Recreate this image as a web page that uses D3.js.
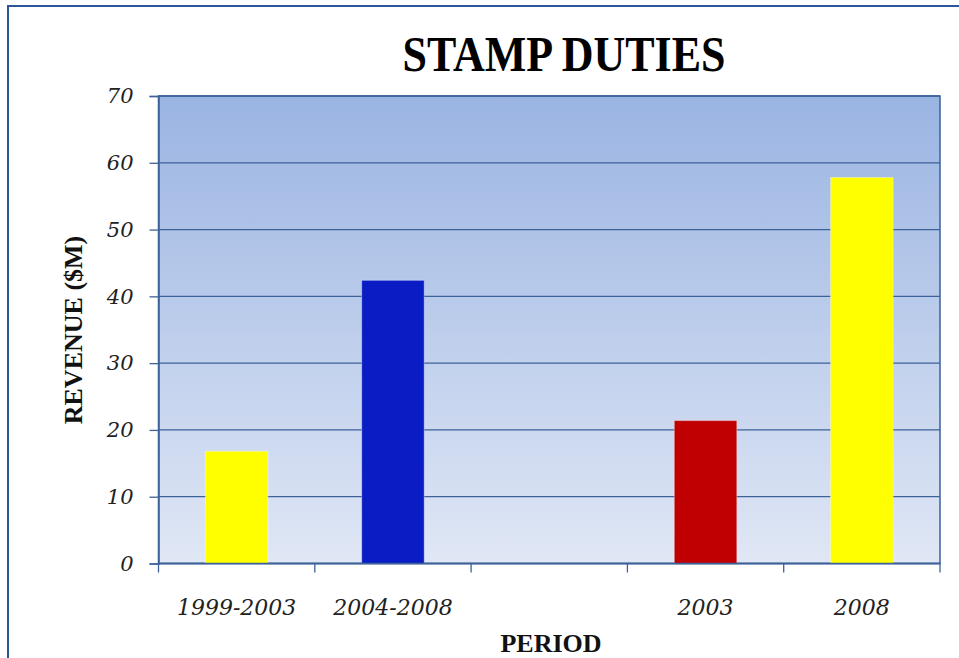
<!DOCTYPE html>
<html lang="en">
<head>
<meta charset="UTF-8">
<title>Stamp Duties</title>
<script src="https://d3js.org/d3.v7.min.js"></script>
<style>
  body { margin: 0; background: #fff; }
  .tick text { font-family: "DejaVu Serif", serif; font-style: italic; font-size: 21px; fill: #222; }
  .xlab text { font-size: 22px; }
  .axis-title { font-family: "Liberation Serif", serif; font-weight: bold; font-size: 26px; fill: #111; }
</style>
</head>
<body>
<svg width="959" height="658"></svg>
<script>
const categories = ["1999-2003", "2004-2008", "", "2003", "2008"];
const values = [16.8, 42.4, null, 21.4, 57.8];
const barColors = ["#FFFF00", "#0A1DC4", null, "#C00000", "#FFFF00"];
const yTicks = [0, 10, 20, 30, 40, 50, 60, 70];

const svg = d3.select("svg");
const plotL = 158.5, plotR = 940, plotT = 96, plotB = 563.5;
const lineColor = "#3D6199";

// outer frame
svg.append("path")
   .attr("d", "M8,660 L8,6 L962,6")
   .attr("fill", "none")
   .attr("stroke", "#2E5597")
   .attr("stroke-width", 2);

// plot background gradient
const grad = svg.append("defs").append("linearGradient")
   .attr("id", "bg").attr("x1", 0).attr("y1", 0).attr("x2", 0).attr("y2", 1);
grad.append("stop").attr("offset", "0%").attr("stop-color", "#9AB4E2");
grad.append("stop").attr("offset", "100%").attr("stop-color", "#E0E7F5");

svg.append("rect")
   .attr("x", plotL).attr("y", plotT)
   .attr("width", plotR - plotL).attr("height", plotB - plotT)
   .attr("fill", "url(#bg)")
   .attr("stroke", lineColor).attr("stroke-width", 1.5);

const x = d3.scaleBand()
   .domain(d3.range(categories.length))
   .range([plotL, plotR])
   .padding(0);

const y = d3.scaleLinear()
   .domain([0, 70])
   .range([plotB, plotT]);

// gridlines
svg.append("g")
   .selectAll("line")
   .data(yTicks)
   .enter().append("line")
   .attr("x1", plotL).attr("x2", plotR)
   .attr("y1", d => y(d)).attr("y2", d => y(d))
   .attr("stroke", lineColor).attr("stroke-width", 1.3);

// bars
const barW = x.bandwidth() * 0.4;
svg.append("g")
   .selectAll("rect")
   .data(values.map((v, i) => ({ v, i })).filter(d => d.v != null))
   .enter().append("rect")
   .attr("x", d => x(d.i) + (x.bandwidth() - barW) / 2)
   .attr("y", d => y(d.v))
   .attr("width", barW)
   .attr("height", d => y(0) - y(d.v))
   .attr("fill", d => barColors[d.i])
   .attr("stroke", "rgba(255,255,255,0.35)")
   .attr("stroke-width", 1);

// y axis
const yAxis = svg.append("g")
   .attr("transform", `translate(${plotL},0)`)
   .call(d3.axisLeft(y).tickValues(yTicks).tickSize(9).tickPadding(16));
yAxis.select(".domain").attr("stroke", lineColor).attr("stroke-width", 1.5);
yAxis.selectAll(".tick line").attr("stroke", lineColor).attr("stroke-width", 1.3);

// x axis: ticks at band boundaries
const xAxis = svg.append("g").attr("transform", `translate(0,${plotB})`);
xAxis.append("line")
   .attr("x1", plotL).attr("x2", plotR)
   .attr("stroke", lineColor).attr("stroke-width", 1.5);
xAxis.selectAll(".bnd")
   .data(d3.range(categories.length + 1))
   .enter().append("line")
   .attr("x1", i => i < categories.length ? x(i) : plotR)
   .attr("x2", i => i < categories.length ? x(i) : plotR)
   .attr("y1", 0).attr("y2", 9)
   .attr("stroke", lineColor).attr("stroke-width", 1.3);
xAxis.selectAll(".lbl")
   .data(categories)
   .enter().append("g").attr("class", "tick xlab")
   .append("text")
   .attr("x", (d, i) => x(i) + x.bandwidth() / 2)
   .attr("y", 51)
   .attr("text-anchor", "middle")
   .text(d => d);

// titles
svg.append("text")
   .attr("transform", "translate(564,71) scale(1,1.15)")
   .attr("text-anchor", "middle")
   .attr("font-family", "Liberation Serif, serif")
   .attr("font-weight", "bold")
   .attr("font-size", 44)
   .attr("fill", "#000")
   .text("STAMP DUTIES");

svg.append("text")
   .attr("class", "axis-title")
   .attr("x", 551).attr("y", 652)
   .attr("text-anchor", "middle")
   .text("PERIOD");

svg.append("text")
   .attr("class", "axis-title")
   .attr("transform", "translate(82,330) rotate(-90)")
   .attr("text-anchor", "middle")
   .text("REVENUE ($M)");
</script>
</body>
</html>
